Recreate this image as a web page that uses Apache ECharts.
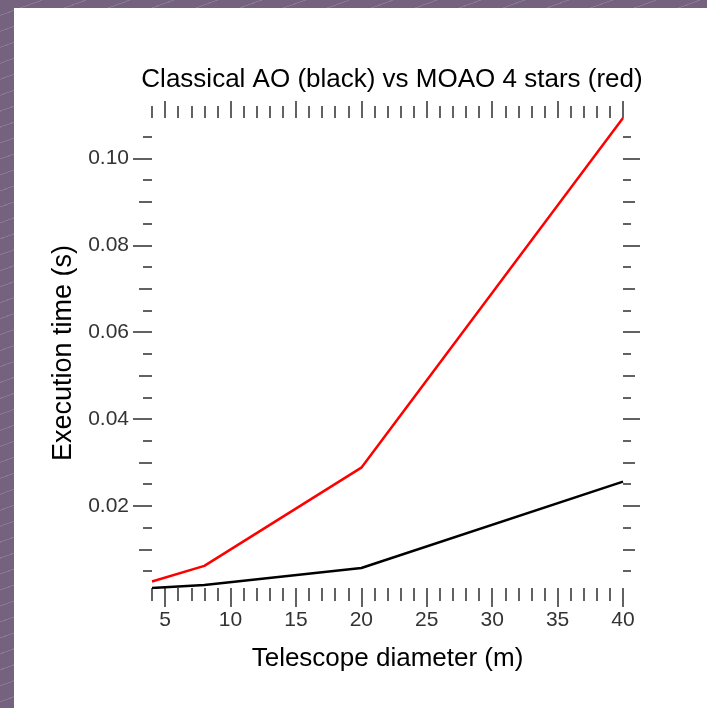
<!DOCTYPE html>
<html>
<head>
<meta charset="utf-8">
<script src="https://cdn.jsdelivr.net/npm/echarts@6/dist/echarts.min.js"></script>
<style>
  body { margin: 0; }
  #wrap {
    position: relative; width: 707px; height: 708px; overflow: hidden;
    background: repeating-linear-gradient(160deg, #75627e 0px, #75627e 14px, #8a7993 14px, #8a7993 15px);
  }
  #panel { position: absolute; left: 14px; top: 8px; right: 0; bottom: 0; background: #fff; }
  #chart { position: absolute; left: 0; top: 0; width: 707px; height: 708px; }
</style>
</head>
<body>
<div id="wrap">
  <div id="panel"></div>
  <div id="chart"></div>
</div>
<script>
// telescope diameters (m)
const diameters = [4, 8, 20, 40];
// execution time (s)
const classicalAO = [0.0011, 0.0018, 0.0057, 0.0256];
const moao4 = [0.0026, 0.0062, 0.0288, 0.1093];

// tick values
const xLabels = [5, 10, 15, 20, 25, 30, 35, 40];
const xMinor = [4, 6, 7, 8, 9, 11, 12, 13, 14, 16, 17, 18, 19, 21, 22, 23, 24,
  26, 27, 28, 29, 31, 32, 33, 34, 36, 37, 38, 39];
const yLabels = [0.02, 0.04, 0.06, 0.08, 0.10];
const yMid = [0.01, 0.03, 0.05, 0.07, 0.09];
const yMinor = [0.005, 0.015, 0.025, 0.035, 0.045, 0.055, 0.065, 0.075, 0.085, 0.095, 0.105];

const yMin = Math.min(...classicalAO, ...moao4);
const yMax = Math.max(...classicalAO, ...moao4);
const font = 'Liberation Sans, Arial, sans-serif';
const tickStyle = { color: '#3a3a3a', width: 1.6 };

function xAx(pos, ticks, len, labels) {
  return {
    type: 'value', position: pos, min: 4, max: 40,
    axisLine: { show: false }, splitLine: { show: false },
    axisTick: { show: true, length: len, customValues: ticks, lineStyle: tickStyle },
    axisLabel: labels ? {
      show: true, customValues: labels, margin: 22, fontSize: 21,
      color: '#333', fontFamily: font
    } : { show: false }
  };
}
function yAx(pos, ticks, len, labels) {
  return {
    type: 'value', position: pos, min: yMin, max: yMax,
    axisLine: { show: false }, splitLine: { show: false },
    axisTick: { show: true, length: len, customValues: ticks, lineStyle: tickStyle },
    axisLabel: labels ? {
      show: true, customValues: labels, margin: 23, fontSize: 21,
      color: '#333', fontFamily: font, formatter: v => v.toFixed(2)
    } : { show: false }
  };
}

const chart = echarts.init(document.getElementById('chart'));
const xAxes = [
  xAx('bottom', xLabels, 19, xLabels),
  xAx('bottom', xMinor, 13),
  xAx('top', xLabels, 17),
  xAx('top', xMinor, 12)
];
xAxes[0].name = 'Telescope diameter (m)';
xAxes[0].nameLocation = 'middle';
xAxes[0].nameGap = 58;
xAxes[0].nameTextStyle = { fontSize: 26, color: '#000', fontFamily: font };

const yAxes = [
  yAx('left', yLabels, 19, yLabels),
  yAx('left', yMid, 13),
  yAx('left', yMinor, 9),
  yAx('right', yLabels, 17),
  yAx('right', yMid, 12),
  yAx('right', yMinor, 8)
];
yAxes[0].name = 'Execution time (s)';
yAxes[0].nameLocation = 'middle';
yAxes[0].nameGap = 73;
yAxes[0].nameTextStyle = { fontSize: 27, color: '#000', fontFamily: font };

chart.setOption({
  animation: false,
  title: {
    text: 'Classical AO (black) vs MOAO 4 stars (red)',
    left: 387, top: 62, textAlign: 'center',
    textStyle: { fontSize: 26, fontWeight: 'normal', color: '#000', fontFamily: font }
  },
  grid: { left: 152, right: 84, top: 118, bottom: 120 },
  xAxis: xAxes,
  yAxis: yAxes,
  series: [
    {
      name: 'Classical AO', type: 'line', symbol: 'none',
      lineStyle: { color: '#000', width: 2.5 },
      data: diameters.map((d, i) => [d, classicalAO[i]])
    },
    {
      name: 'MOAO 4 stars', type: 'line', symbol: 'none',
      lineStyle: { color: '#ff0000', width: 2.5 },
      data: diameters.map((d, i) => [d, moao4[i]])
    }
  ]
});
</script>
</body>
</html>
